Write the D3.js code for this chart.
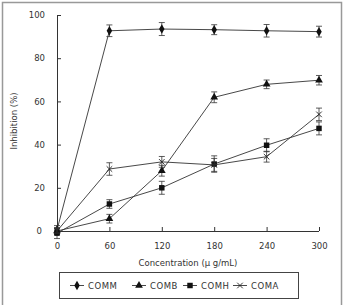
<!DOCTYPE html>
<html>
<head>
<meta charset="utf-8">
<script src="https://cdn.jsdelivr.net/npm/d3@7"></script>
<style>
  body { margin: 0; background: #fff; }
  text { font-family: "DejaVu Sans", sans-serif; fill: #333; }
</style>
</head>
<body>
<script>
// chart values
var concentrations = [0, 60, 120, 180, 240, 300];
var seriesNames = ["COMM", "COMB", "COMH", "COMA"];
var comm = [0.5, 92.7, 93.5, 93.2, 92.7, 92.3];
var commErr = [2, 2.7, 3, 2.3, 2.9, 2.5];
var comb = [0, 5.7, 27.9, 61.9, 67.9, 69.8];
var combErr = [1.5, 2, 2.5, 2.5, 2, 2.2];
var comh = [-1, 12.5, 20, 31, 39.7, 47.5];
var comhErr = [2.5, 2, 3, 3.8, 3, 3];
var coma = [0, 28.7, 32, 30.6, 34.4, 54];
var comaErr = [1, 2.9, 2.5, 3, 2.5, 2.9];
var yTicks = [0, 20, 40, 60, 80, 100];
var xTicks = [0, 60, 120, 180, 240, 300];

var w = 347, h = 305;

var svg = d3.select("body").append("svg")
    .attr("width", w)
    .attr("height", h);

// outer frame
svg.append("rect")
    .attr("x", 2.5).attr("y", 2.5)
    .attr("width", 339).attr("height", 310)
    .attr("fill", "none")
    .attr("stroke", "#999")
    .attr("stroke-width", 1.5);

var xScale = d3.scaleLinear().domain([0, 300]).range([57, 319]);
var yScale = d3.scaleLinear().domain([0, 100]).range([231, 15]);

var xAxis = d3.axisBottom(xScale).tickValues(xTicks).tickSize(4).tickPadding(8);
var yAxis = d3.axisLeft(yScale).tickValues(yTicks).tickSize(4).tickPadding(8);

var gx = svg.append("g")
    .attr("transform", "translate(0," + yScale(0) + ")")
    .call(xAxis);
var gy = svg.append("g")
    .attr("transform", "translate(" + xScale(0) + ",0)")
    .call(yAxis);

[gx, gy].forEach(function(g) {
  g.select(".domain").attr("stroke", "#333");
  g.selectAll(".tick line").attr("stroke", "#333");
  g.selectAll(".tick text").style("font-size", "8.5px").attr("fill", "#333");
});
// plain axis lines (no end ticks), ticks pointing inward
gx.select(".domain").attr("d", "M" + xScale(0) + ",0.5H" + xScale(300));
gy.select(".domain").attr("d", "M0.5," + yScale(0) + "V" + yScale(100));
gy.selectAll(".tick line").attr("x1", 0).attr("x2", 4);
gx.selectAll(".tick line").attr("y1", 0).attr("y2", -4);
gy.select(".tick:first-of-type text").attr("dx", "-3");

// axis titles
svg.append("text")
    .attr("x", 188).attr("y", 266)
    .attr("text-anchor", "middle")
    .style("font-size", "8.5px")
    .text("Concentration (\u03bc g/mL)");

svg.append("text")
    .attr("transform", "translate(17,121) rotate(-90)")
    .attr("text-anchor", "middle")
    .style("font-size", "8.5px")
    .text("Inhibition (%)");

var series = [
  { name: seriesNames[0], values: comm, err: commErr, shape: "diamond" },
  { name: seriesNames[1], values: comb, err: combErr, shape: "triangle" },
  { name: seriesNames[2], values: comh, err: comhErr, shape: "square" },
  { name: seriesNames[3], values: coma, err: comaErr, shape: "cross" }
];

function drawMarker(g, shape, x, y) {
  var t = "translate(" + x + "," + y + ")";
  if (shape === "diamond") {
    g.append("path").attr("d", d3.symbol(d3.symbolDiamond, 26)())
      .attr("transform", t).attr("fill", "#111");
  } else if (shape === "triangle") {
    g.append("path").attr("d", d3.symbol(d3.symbolTriangle, 26)())
      .attr("transform", t).attr("fill", "#111");
  } else if (shape === "square") {
    g.append("path").attr("d", d3.symbol(d3.symbolSquare, 30)())
      .attr("transform", t).attr("fill", "#111");
  } else {
    g.append("path").attr("d", d3.symbol(d3.symbolX, 22)())
      .attr("transform", t)
      .attr("fill", "none").attr("stroke", "#222").attr("stroke-width", 0.9);
  }
}

var line = d3.line()
    .x(function(d, i) { return xScale(concentrations[i]); })
    .y(function(d) { return yScale(d); });

series.forEach(function(s) {
  var g = svg.append("g");
  g.append("path")
      .attr("d", line(s.values))
      .attr("fill", "none")
      .attr("stroke", "#333")
      .attr("stroke-width", 0.9);
  // error bars
  s.values.forEach(function(v, i) {
    var x = xScale(concentrations[i]);
    var y1 = yScale(v + s.err[i]), y2 = yScale(v - s.err[i]);
    g.append("path")
        .attr("d", "M" + x + "," + y1 + "V" + y2 +
                   "M" + (x - 3) + "," + y1 + "H" + (x + 3) +
                   "M" + (x - 3) + "," + y2 + "H" + (x + 3))
        .attr("fill", "none")
        .attr("stroke", "#333")
        .attr("stroke-width", 0.8);
  });
  s.values.forEach(function(v, i) {
    drawMarker(g, s.shape, xScale(concentrations[i]), yScale(v));
  });
});

// legend
svg.append("rect")
    .attr("x", 59.5).attr("y", 272.5)
    .attr("width", 239).attr("height", 26)
    .attr("fill", "none")
    .attr("stroke", "#444")
    .attr("stroke-width", 1);

var legendX = [70, 132, 183, 233];
series.forEach(function(s, i) {
  var g = svg.append("g");
  var x0 = legendX[i];
  g.append("line")
      .attr("x1", x0).attr("x2", x0 + 14)
      .attr("y1", 285.5).attr("y2", 285.5)
      .attr("stroke", "#333").attr("stroke-width", 0.9);
  drawMarker(g, s.shape, x0 + 7, 285.5);
  g.append("text")
      .attr("x", x0 + 18).attr("y", 289)
      .style("font-size", "8.5px")
      .style("letter-spacing", "0.5px")
      .text(s.name);
});
</script>
</body>
</html>
